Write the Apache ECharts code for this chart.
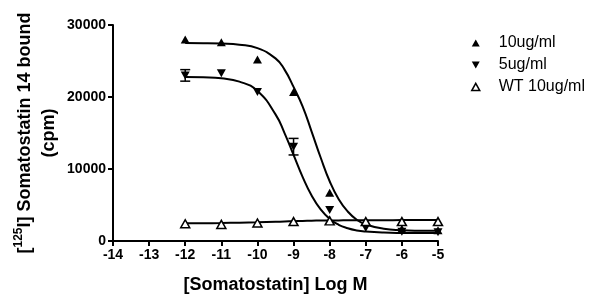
<!DOCTYPE html>
<html><head><meta charset="utf-8">
<script src="https://cdn.jsdelivr.net/npm/echarts@6/dist/echarts.min.js"></script>
<style>html,body{margin:0;padding:0;background:#fff}#c{width:600px;height:300px}</style>
</head><body><div id="c"></div>
<script>
const xTicks = [-14,-13,-12,-11,-10,-9,-8,-7,-6,-5];
const doseX = [-12,-11,-10,-9,-8,-7,-6,-5];
const pts10 = [28000,27600,25200,20700,6700,2700,1700,1500];
const pts5 = [23000,23300,20700,13100,4300,1800,1300,1200];
const err5 = [800,0,0,1150,0,0,0,0];
const ptsWT = [2400,2300,2500,2700,2800,2700,2700,2700];
const curveX = [-12,-11.5,-11,-10.5,-10,-9.5,-9.25,-9,-8.75,-8.5,-8.25,-8,-7.75,-7.5,-7.25,-7,-6.5,-6,-5.5,-5];
const curve10 = [27490,27480,27430,27270,26780,25360,23800,21400,18700,15200,11600,8300,5800,4100,2950,2300,1700,1500,1430,1410];
const curve5 = [22780,22730,22590,22140,20830,17590,14990,11950,8910,6315,4380,3070,2250,1770,1470,1315,1170,1120,1107,1102];
const curveWT = [2450,2470,2500,2550,2600,2670,2710,2750,2790,2820,2840,2850,2860,2870,2875,2880,2890,2900,2900,2900];
const names = ['10ug/ml','5ug/ml','WT 10ug/ml'];

const pair = (xs, ys) => xs.map((x,i)=>[x, ys[i]]);
const FONT = 'Liberation Sans, Arial, sans-serif';
const chart = echarts.init(document.getElementById('c'));
const lineStyle = {color:'#000', width:2};
const upTri = 'path://M5,0 L10,9 L0,9 Z';
const downTri = 'path://M0,0 L10,0 L5,9 Z';

chart.setOption({
  animation:false,
  grid:{left:113, right:162, top:25, bottom:59, containLabel:false, outerBoundsMode:'none'},
  legend:{
    orient:'vertical', left:466, top:30, itemGap:6, itemWidth:8, itemHeight:8,
    textStyle:{fontFamily:FONT, fontSize:16, color:'#000', padding:[0,0,0,14]},
    data:[
      {name:names[0], icon:upTri, itemStyle:{color:'#000', borderWidth:0}},
      {name:names[1], icon:downTri, itemStyle:{color:'#000', borderWidth:0}},
      {name:names[2], icon:upTri, itemStyle:{color:'#fff', borderColor:'#000', borderWidth:1.5}}
    ]
  },
  xAxis:{
    type:'value', min:-14, max:-5, interval:1,
    name:'[Somatostatin] Log M', nameLocation:'middle', nameGap:35, nameMoveOverlap:false,
    nameTextStyle:{fontFamily:FONT, fontSize:18, fontWeight:'bold', color:'#000'},
    axisLine:{onZero:false, lineStyle:{color:'#000', width:2}},
    axisTick:{length:5, lineStyle:{color:'#000', width:2}},
    axisLabel:{fontFamily:FONT, fontSize:14, fontWeight:'bold', color:'#000', margin:7},
    splitLine:{show:false}
  },
  yAxis:{
    type:'value', min:0, max:30000, interval:10000,
    name:'[{s|125}I] Somatostatin 14 bound\n(cpm)', nameLocation:'middle', nameGap:52, nameMoveOverlap:false,
    nameTextStyle:{fontFamily:FONT, fontSize:18, fontWeight:'bold', color:'#000', lineHeight:24,
      rich:{s:{fontFamily:FONT, fontSize:12, fontWeight:'bold', color:'#000', verticalAlign:'top', lineHeight:24, padding:[0,0,8,0]}}},
    axisLine:{show:true, lineStyle:{color:'#000', width:2}},
    axisTick:{show:true, length:5, lineStyle:{color:'#000', width:2}},
    axisLabel:{fontFamily:FONT, fontSize:14, fontWeight:'bold', color:'#000', margin:7,
      formatter:(v)=>String(v)},
    splitLine:{show:false}
  },
  series:[
    {type:'line', data:pair(curveX, curve10), smooth:true, symbol:'none', lineStyle:lineStyle, z:2, silent:true},
    {type:'line', data:pair(curveX, curve5), smooth:true, symbol:'none', lineStyle:lineStyle, z:2, silent:true},
    {type:'line', data:pair(curveX, curveWT), smooth:true, symbol:'none', lineStyle:lineStyle, z:2, silent:true},
    {type:'custom', z:3, silent:true,
      data: doseX.map((x,i)=>[x, pts5[i], err5[i]]).filter(d=>d[2]>0),
      renderItem:(params, api)=>{
        const x = api.value(0), y = api.value(1), e = api.value(2);
        const p1 = api.coord([x, y+e]), p2 = api.coord([x, y-e]);
        const w = 5;
        return {type:'group', children:[
          {type:'line', shape:{x1:p1[0], y1:p1[1], x2:p2[0], y2:p2[1]}, style:{stroke:'#000', lineWidth:1.5}},
          {type:'line', shape:{x1:p1[0]-w, y1:p1[1], x2:p1[0]+w, y2:p1[1]}, style:{stroke:'#000', lineWidth:1.5}},
          {type:'line', shape:{x1:p2[0]-w, y1:p2[1], x2:p2[0]+w, y2:p2[1]}, style:{stroke:'#000', lineWidth:1.5}}
        ]};
      }
    },
    {name:names[0], type:'scatter', data:pair(doseX, pts10), symbol:upTri, symbolSize:[9,8],
      itemStyle:{color:'#000', opacity:1}, z:4},
    {name:names[1], type:'scatter', data:pair(doseX, pts5), symbol:downTri, symbolSize:[9,8],
      itemStyle:{color:'#000', opacity:1}, z:4},
    {name:names[2], type:'scatter', data:pair(doseX, ptsWT), symbol:upTri, symbolSize:[9,8],
      itemStyle:{color:'#fff', borderColor:'#000', borderWidth:1.5, opacity:1}, z:5}
  ]
});
</script></body></html>
